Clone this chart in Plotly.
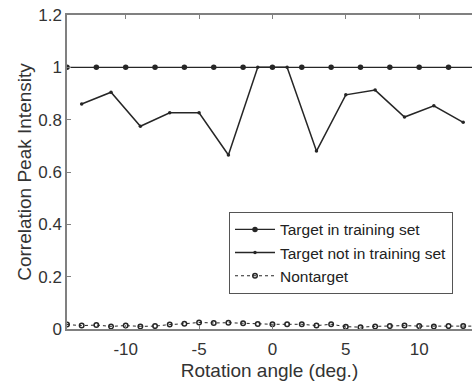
import plotly.graph_objects as go

# Data
angles_train = [-14, -12, -10, -8, -6, -4, -2, 0, 2, 4, 6, 8, 10, 12, 14]
target_train = [1, 1, 1, 1, 1, 1, 1, 1, 1, 1, 1, 1, 1, 1, 1]

angles_not = [-13, -11, -9, -7, -5, -3, -1, 1, 3, 5, 7, 9, 11, 13]
target_not = [0.86, 0.905, 0.775, 0.826, 0.826, 0.665, 1.0, 1.0, 0.68, 0.895, 0.913, 0.81, 0.853, 0.79]

angles_non = list(range(-14, 15))
nontarget = [0.017, 0.013, 0.015, 0.010, 0.013, 0.010, 0.011, 0.017, 0.020, 0.025,
             0.023, 0.024, 0.022, 0.019, 0.018, 0.018, 0.018, 0.013, 0.018, 0.009,
             0.007, 0.010, 0.011, 0.013, 0.011, 0.010, 0.011, 0.011, 0.011]

x_ticks = [-10, -5, 0, 5, 10]
x_ticklabels = ["-10", "-5", "0", "5", "10"]
y_ticks = [0, 0.2, 0.4, 0.6, 0.8, 1.0, 1.2]
y_ticklabels = ["0", "0.2", "0.4", "0.6", "0.8", "1", "1.2"]

line_col = "#262626"
axis_col = "#808080"
fig = go.Figure()
fig.add_trace(go.Scatter(x=angles_train, y=target_train, mode="lines+markers",
                         name="Target in training set",
                         line=dict(color=line_col, width=1.3),
                         marker=dict(symbol="circle", size=5.5, color=line_col)))
fig.add_trace(go.Scatter(x=angles_not, y=target_not, mode="lines+markers",
                         name="Target not in training set",
                         line=dict(color=line_col, width=1.5),
                         marker=dict(symbol="circle", size=3.5, color=line_col)))
fig.add_trace(go.Scatter(x=angles_non, y=nontarget, mode="lines+markers",
                         name="Nontarget",
                         line=dict(color=line_col, width=1, dash="dot"),
                         marker=dict(symbol="circle-open", size=4.5, color=line_col,
                                     line=dict(width=1.5, color=line_col))))

font_fam = "Liberation Sans, Arial, sans-serif"
fig.update_layout(
    width=472, height=387,
    margin=dict(l=67, r=0, t=15, b=58),
    plot_bgcolor="white", paper_bgcolor="white",
    font=dict(family=font_fam, size=16, color="#333333"),
    showlegend=True,
    legend=dict(x=0.4, y=0.373, xanchor="left", yanchor="top",
                bgcolor="white", bordercolor="#555555", borderwidth=1,
                font=dict(size=15.5, color="#222222"),
                tracegroupgap=0, itemwidth=40),
    xaxis=dict(range=[-14, 13.6], tickvals=x_ticks, ticktext=x_ticklabels,
               ticks="inside", ticklen=4, ticklabelstandoff=4,
               showline=True, linecolor=axis_col, linewidth=1.5, mirror="ticks",
               tickcolor=axis_col, showgrid=False, zeroline=False,
               tickfont=dict(size=17),
               title=dict(text="Rotation angle (deg.)", font=dict(size=19), standoff=6)),
    yaxis=dict(range=[0, 1.2], tickvals=y_ticks, ticktext=y_ticklabels,
               ticks="inside", ticklen=4,
               showline=True, linecolor=axis_col, linewidth=1.5,
               tickcolor=axis_col, showgrid=False, zeroline=False,
               tickfont=dict(size=17),
               title=dict(text="Correlation Peak Intensity", font=dict(size=19), standoff=2)),
)
fig.write_html("out.html", config={"displayModeBar": False},
               post_script="document.body.style.margin='0';document.body.style.overflow='hidden';")
